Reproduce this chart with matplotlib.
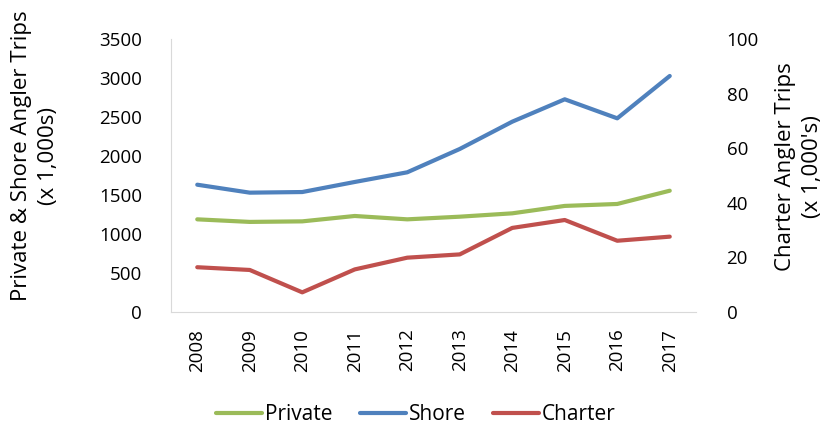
import matplotlib
matplotlib.use("Agg")
import matplotlib.pyplot as plt

years = ["2008", "2009", "2010", "2011", "2012", "2013", "2014", "2015", "2016", "2017"]
private = [1188, 1155, 1162, 1231, 1188, 1222, 1265, 1360, 1385, 1555]
shore = [1632, 1530, 1538, 1667, 1791, 2090, 2440, 2727, 2483, 3026]
charter = [16.4, 15.4, 7.2, 15.6, 19.9, 21.1, 30.8, 33.7, 26.1, 27.6]

plt.rcParams['font.family'] = ['Open Sans', 'DejaVu Sans']
fs = 13.5

fig = plt.figure(figsize=(8.27, 4.24), dpi=100)
ax = fig.add_axes([171/827, 1-312/424, (696-171)/827, (312-39)/424])
ax2 = ax.twinx()

x = list(range(len(years)))
lp, = ax.plot(x, private, color='#9BBB59', lw=3, solid_capstyle='round', label='Private')
ls, = ax.plot(x, shore, color='#4F81BD', lw=3, solid_capstyle='round', label='Shore')
lc, = ax2.plot(x, charter, color='#C0504D', lw=3, solid_capstyle='round', label='Charter')

ax.set_xlim(-0.5, len(years) - 0.5)
ax.set_ylim(0, 3500)
ax2.set_ylim(0, 100)
ax.set_yticks(range(0, 3501, 500))
ax2.set_yticks(range(0, 101, 20))
ax.set_xticks(x)
ax.set_xticklabels(years, rotation=90, fontsize=fs)
ax.tick_params(axis='both', length=0, labelsize=fs, colors='#000000')
ax.tick_params(axis='y', pad=21)
ax.tick_params(axis='x', pad=12)
ax2.tick_params(axis='y', length=0, labelsize=fs, pad=22)

for a in (ax, ax2):
    for s in a.spines.values():
        s.set_visible(False)
ax.spines['left'].set_visible(True)
ax.spines['bottom'].set_visible(True)
ax.spines['left'].set_color('#D9D9D9')
ax.spines['bottom'].set_color('#D9D9D9')

fig.text(0.042, 0.633, "Private & Shore Angler Trips\n(x 1,000s)", rotation=90,
         ha='center', va='center', fontsize=16, linespacing=1.4)
fig.text(0.966, 0.607, "Charter Angler Trips\n(x 1,000's)", rotation=90,
         ha='center', va='center', fontsize=16, linespacing=1.4)

fig.legend(handles=[lp, ls, lc], loc='center', bbox_to_anchor=(0.503, 0.022),
           ncol=3, frameon=False, fontsize=15, handlelength=2.2, handletextpad=0.15,
           columnspacing=1.3)

fig.savefig("out.png", dpi=100)
